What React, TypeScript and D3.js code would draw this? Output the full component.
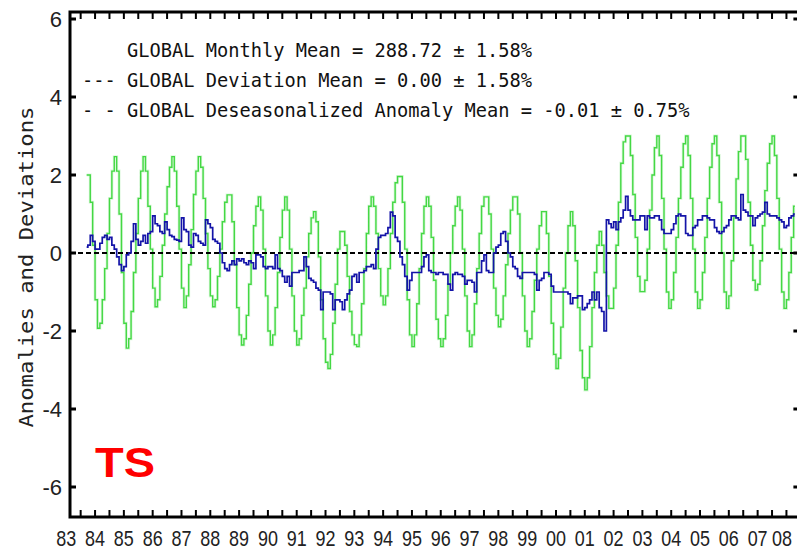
import React from 'react';
import * as d3 from 'd3';

// first plotted month is Sep 1983, one value per month after that
const startYear = 1983;
const startMonth = 9;

// GLOBAL deviation (monthly mean minus overall mean), %
const deviation = [
  2.0, 2.0, 1.3, 0.2, -1.2, -1.93, -1.8, -1.2, -0.4, 0.5, 1.4, 2.1,
  2.47, 2.1, 1.0, -0.5, -1.8, -2.44, -2.2, -1.5, -0.5, 0.5, 1.4, 2.1,
  2.47, 2.1, 1.2, 0.1, -0.9, -1.38, -1.2, -0.6, 0.2, 1.0, 1.7, 2.2,
  2.47, 2.1, 1.2, 0.1, -0.9, -1.4, -1.1, -0.3, 0.6, 1.5, 2.1, 2.47,
  2.2, 1.4, 0.5, -0.4, -1.1, -1.38, -1.2, -0.6, 0.1, 0.8, 1.3, 1.49,
  1.49, 0.8, -0.3, -1.4, -2.1, -2.36, -2.2, -1.6, -0.8, 0.0, 0.7, 1.2,
  1.44, 1.1, 0.1, -1.1, -2.0, -2.36, -2.1, -1.4, -0.5, 0.4, 1.1, 1.44,
  1.1, 0.1, -1.1, -2.0, -2.36, -2.2, -1.6, -0.9, -0.1, 0.5, 0.9, 1.06,
  0.8, -0.1, -1.2, -2.2, -2.8, -2.96, -2.6, -1.8, -0.8, 0.1, 0.55, 0.55,
  0.2, -0.6, -1.5, -2.1, -2.35, -2.4, -2.1, -1.3, -0.4, 0.5, 1.2, 1.44,
  1.2, 0.5, -0.4, -1.1, -1.33, -1.1, -0.4, 0.5, 1.3, 1.8, 1.96, 1.96,
  1.3, 0.1, -1.2, -2.1, -2.4, -2.1, -1.3, -0.4, 0.5, 1.2, 1.44, 1.2,
  0.4, -0.7, -1.7, -2.2, -2.4, -2.2, -1.6, -0.8, 0.0, 0.7, 1.2, 1.44,
  1.1, 0.1, -1.1, -2.0, -2.4, -2.1, -1.3, -0.4, 0.5, 1.2, 1.44, 1.44,
  1.0, 0.1, -0.9, -1.6, -1.89, -1.7, -1.1, -0.3, 0.5, 1.1, 1.44, 1.44,
  1.0, 0.0, -1.1, -2.0, -2.4, -2.2, -1.5, -0.7, 0.1, 0.7, 1.06, 1.06,
  0.5, -0.6, -1.8, -2.6, -2.96, -2.7, -1.9, -0.9, 0.0, 0.7, 1.06, 0.7,
  -0.2, -1.4, -2.5, -3.2, -3.51, -3.2, -2.4, -1.4, -0.5, 0.2, 0.55, 0.2,
  -0.5, -1.1, -1.42, -1.42, -0.9, 0.2, 1.3, 2.3, 2.85, 3.0, 3.0, 2.5,
  1.5, 0.4, -0.6, -0.99, -0.99, -0.7, 0.1, 1.1, 2.0, 2.7, 3.0, 2.5,
  1.4, 0.1, -1.0, -1.42, -1.2, -0.5, 0.4, 1.4, 2.2, 2.8, 3.0, 2.5,
  1.4, 0.1, -1.0, -1.42, -1.2, -0.5, 0.4, 1.4, 2.2, 2.8, 3.0, 2.5,
  1.3, 0.0, -1.0, -1.42, -1.1, -0.2, 0.9, 1.9, 2.6, 3.0, 3.0, 2.4,
  1.3, 0.2, -0.7, -0.95, -0.8, -0.2, 0.7, 1.6, 2.3, 2.8, 3.0, 2.5,
  1.4, 0.1, -1.0, -1.42, -1.2, -0.5, 0.4, 1.2,
];

// GLOBAL deseasonalized anomaly, %
const anomaly = [
  0.15, 0.2, 0.45, 0.3, 0.1, 0.1, 0.25, 0.4, 0.45, 0.35, 0.4, 0.2,
  0.1, -0.1, -0.3, -0.45, -0.35, -0.05, 0.0, 0.3, 0.75, 0.35, 0.2, 0.3,
  0.45, 0.25, 0.5, 0.55, 0.95, 0.75, 0.7, 0.55, 0.5, 0.8, 0.6, 0.45,
  0.42, 0.35, 0.33, 0.3, 0.9, 0.6, 0.55, 0.2, 0.15, 0.5, 0.45, 0.3,
  0.25, 0.2, 0.85, 0.75, 0.65, 0.35, 0.3, 0.25, 0.0, -0.25, -0.4, -0.45,
  -0.3, -0.2, -0.3, -0.15, -0.2, -0.15, -0.25, -0.3, -0.2, -0.25, -0.4, -0.05,
  -0.05, -0.1, -0.35, -0.4, -0.35, -0.35, -0.4, -0.05, -0.4, -0.45, -0.6, -0.75,
  -0.6, -0.85, -0.5, -0.5, -0.5, -0.45, -0.45, -0.1, -0.35, -0.65, -0.7, -0.75,
  -0.9, -0.95, -1.45, -1.0, -1.0, -1.0, -1.05, -1.45, -1.2, -1.2, -1.25, -1.45,
  -1.2, -1.05, -0.95, -0.6, -0.55, -0.75, -0.5, -0.5, -0.45, -0.35, -0.35, -0.3,
  -0.4, 0.1, 0.4, 0.45, 0.45, 0.5, 0.65, 1.05, 0.95, 0.4, 0.3, -0.1,
  -0.3, -0.6, -0.95, -0.7, -0.5, -0.5, -0.5, -0.5, -0.35, -0.1, -0.05, -0.45,
  -0.5, -0.5, -0.55, -0.5, -0.5, -0.55, -0.55, -0.8, -0.95, -0.55, -0.5, -0.55,
  -0.55, -0.6, -0.8, -0.7, -0.7, -0.75, -1.0, -0.5, -0.5, -0.2, -0.05, -0.45,
  -0.5, -0.5, 0.0, 0.15, 0.2, 0.5, 0.55, 0.3, 0.0, -0.1, -0.35, -0.4,
  -0.6, -0.65, -0.5, -0.5, -0.5, -0.5, -0.5, -0.55, -0.95, -0.7, -0.65, -0.5,
  -0.5, -0.55, -0.85, -1.0, -1.0, -1.0, -1.0, -1.0, -1.0, -1.05, -1.3, -1.15,
  -1.15, -1.1, -1.1, -1.45, -1.4, -1.3, -1.2, -1.0, -1.2, -1.0, -1.4, -1.5,
  -2.0, 0.85, 0.75, 0.65, 0.8, 0.6, 0.8, 0.9, 1.1, 1.45, 1.1, 0.95,
  0.85, 0.85, 0.85, 0.95, 0.95, 0.6, 0.95, 0.9, 0.9, 0.95, 0.95, 0.85,
  0.6, 0.5, 0.5, 0.5, 0.6, 0.75, 0.95, 1.0, 0.95, 0.95, 0.5, 0.45,
  0.45, 0.65, 0.7, 0.85, 0.85, 0.95, 0.95, 0.9, 0.85, 0.85, 0.65, 0.55,
  0.5, 0.55, 0.65, 0.7, 0.85, 0.95, 0.95, 0.9, 0.85, 1.5, 1.1, 1.05,
  0.95, 0.95, 0.7, 0.9, 0.95, 1.0, 1.05, 1.3, 1.0, 0.95, 0.95, 0.95,
  0.9, 0.85, 0.8, 0.65, 0.7, 0.9, 0.95, 1.0,
];

const yTicks = [6, 4, 2, 0, -2, -4, -6];
const years = d3.range(1983, 2009);
const yearLabels = years.map(y => String(y).slice(2));

const legendLines = [
  'GLOBAL Monthly Mean = 288.72 ± 1.58%',
  '--- GLOBAL Deviation Mean = 0.00 ± 1.58%',
  '- - GLOBAL Deseasonalized Anomaly Mean = -0.01 ± 0.75%',
];
const yTitle = 'Anomalies and Deviations';

const W = 797;
const H = 551;

export default function App() {
  const x = d3.scaleLinear().domain([1983.13, 2008.45]).range([70, 799.4]);
  const y = d3.scaleLinear().domain([-6, 6]).range([487, 19]);
  const top = 12;
  const bottom = 517;
  const left = x.range()[0];
  const right = x.range()[1];

  const monthTime = (i: number) => startYear + (startMonth - 1 + i + 0.5) / 12;

  const line = d3.line<number>()
    .x((d, i) => x(monthTime(i)))
    .y(d => y(d))
    .curve(d3.curveStep);

  const halfYears = d3.range(1983.5, 2008.5, 0.5).filter(t => x(t) > left + 2 && x(t) < right - 2);

  const mono = '"DejaVu Sans Mono", "Liberation Mono", monospace';
  const sans = '"Liberation Sans", Arial, sans-serif';

  const devPath = line(deviation) || '';
  const anomPath = line(anomaly) || '';

  return (
    <svg width={W} height={H} style={{position: 'absolute', left: 0, top: 0, background: '#fff'}}>
      {/* data */}
      <path d={devPath} fill="none" stroke="#dcf8dc" strokeWidth={3} />
      <path d={devPath} fill="none" stroke="#44d844" strokeWidth={1.4} />
      <line x1={left} x2={right} y1={y(0)} y2={y(0)} stroke="#000" strokeWidth={2} strokeDasharray="5,3" />
      <path d={anomPath} fill="none" stroke="#1414a8" strokeWidth={1.7} />

      {/* frame */}
      <rect x={left} y={top} width={right - left} height={bottom - top} fill="none" stroke="#000" strokeWidth={3} />

      {/* half-year ticks, top and bottom */}
      {halfYears.map(t => (
        <g key={t}>
          <line x1={x(t)} x2={x(t)} y1={bottom} y2={bottom - 7} stroke="#000" strokeWidth={2} />
          <line x1={x(t)} x2={x(t)} y1={top} y2={top + 7} stroke="#000" strokeWidth={2} />
        </g>
      ))}

      {/* y ticks, left and right */}
      {yTicks.map(v => (
        <g key={v}>
          <line x1={left} x2={left + 6} y1={y(v)} y2={y(v)} stroke="#000" strokeWidth={3} />
          <line x1={right - 6} x2={right} y1={y(v)} y2={y(v)} stroke="#000" strokeWidth={3} />
          <text x={62} y={y(v) + 8} textAnchor="end" fontFamily={sans} fontSize={22} fill="#222">
            {v}
          </text>
        </g>
      ))}

      {/* year labels */}
      {years.map((yr, i) => (
        <text key={yr} x={Math.min(x(yr) - 10, W - 25)} y={546} fontFamily={sans} fontSize={22} fill="#222"
          textLength={20} lengthAdjust="spacingAndGlyphs">
          {yearLabels[i]}
        </text>
      ))}

      {/* axis title */}
      <text transform="translate(33,267) rotate(-90)" textAnchor="middle" fontFamily={mono} fontSize={19}
        fill="#222" textLength={321} lengthAdjust="spacingAndGlyphs">
        {yTitle}
      </text>

      {/* legend */}
      {legendLines.map((s, i) => (
        <text key={i} x={i === 0 ? 127 : 82} y={57 + i * 30} fontFamily={mono} fontSize={20} fill="#111"
          textLength={s.length * 11.25} lengthAdjust="spacingAndGlyphs">
          {s}
        </text>
      ))}

      <text x={95} y={477} fontFamily={sans} fontWeight="bold" fontSize={42} fill="#ff0000"
        textLength={60} lengthAdjust="spacingAndGlyphs">
        TS
      </text>
    </svg>
  );
}
